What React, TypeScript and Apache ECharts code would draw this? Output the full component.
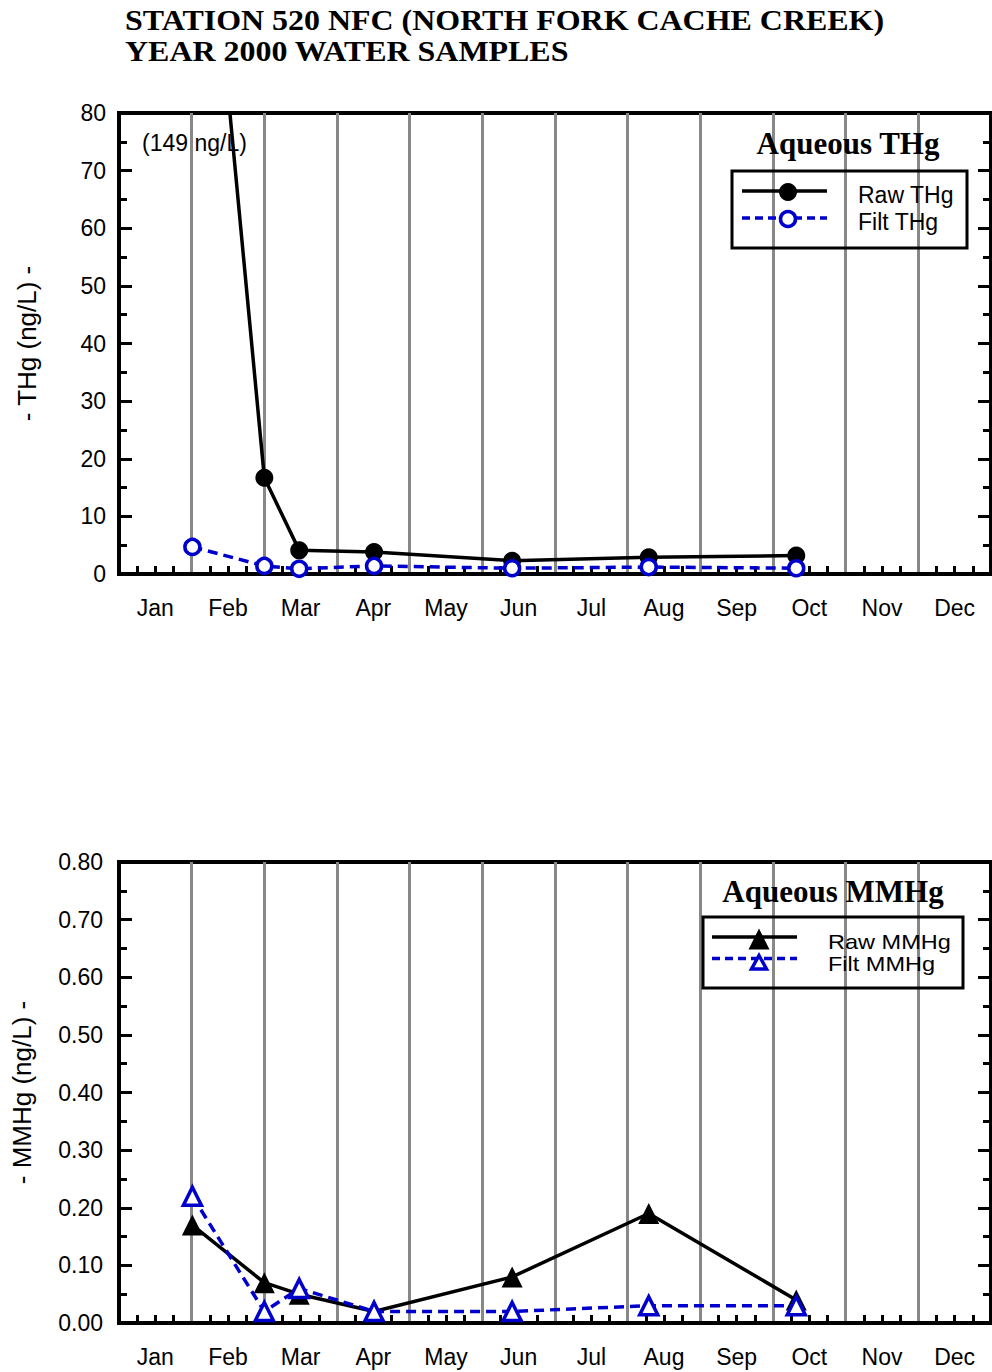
import React, { useEffect, useRef } from 'react';
import * as echarts from 'echarts';

const MONTHS = ['Jan', 'Feb', 'Mar', 'Apr', 'May', 'Jun', 'Jul', 'Aug', 'Sep', 'Oct', 'Nov', 'Dec'];
// sample dates expressed as decimal month of year 2000 (0 = Jan 1)
const SAMPLE_MONTH = [1.01, 2.0, 2.48, 3.51, 5.41, 7.29, 9.32];
const RAW_THG = [149, 16.7, 4.1, 3.8, 2.3, 2.9, 3.2];
const FILT_THG = [4.7, 1.4, 0.9, 1.4, 1.0, 1.2, 1.0];
const RAW_MMHG = [0.17, 0.07, 0.05, 0.02, 0.08, 0.19, 0.04];
const FILT_MMHG = [0.22, 0.02, 0.06, 0.02, 0.02, 0.03, 0.03];
const THG_AXIS = { max: 80, interval: 10, decimals: 0 };
const MMHG_AXIS = { max: 0.8, interval: 0.1, decimals: 2 };

const SANS = 'Liberation Sans, Arial, Helvetica, sans-serif';
const SERIF = 'Liberation Serif, Times New Roman, serif';
const BLUE = '#0000cc';
const GRAY = '#888888';

function zip(xs: number[], ys: number[]) {
  return xs.map((x, i) => [x, ys[i]]);
}

function catX(gridIndex: number) {
  return {
    type: 'category',
    gridIndex,
    data: MONTHS,
    boundaryGap: true,
    position: 'bottom',
    axisLine: { show: true, lineStyle: { color: '#000', width: 4 } },
    axisTick: { show: false },
    axisLabel: { color: '#000', fontSize: 23, fontFamily: SANS, margin: 22, interval: 0 },
    splitLine: { show: true, interval: 0, lineStyle: { color: GRAY, width: 3 } },
  };
}

function valX(gridIndex: number) {
  return {
    type: 'value',
    gridIndex,
    min: 0,
    max: 12,
    interval: 1,
    position: 'bottom',
    axisLine: { show: false },
    axisTick: { show: false, inside: true },
    axisLabel: { show: false },
    splitLine: { show: false },
    minorTick: { show: true, splitNumber: 4, length: 8, lineStyle: { color: '#000', width: 3 } },
  };
}

function valY(
  gridIndex: number,
  ax: { max: number; interval: number; decimals: number },
  position: string,
  showLabel: boolean,
  name: string,
  nameGap: number,
  margin: number
) {
  return {
    type: 'value',
    gridIndex,
    min: 0,
    max: ax.max,
    interval: ax.interval,
    position,
    axisLine: { show: true, lineStyle: { color: '#000', width: 4 } },
    axisTick: { show: true, inside: true, length: 13, lineStyle: { color: '#000', width: 3 } },
    minorTick: { show: true, splitNumber: 2, length: 8, lineStyle: { color: '#000', width: 3 } },
    splitLine: { show: false },
    axisLabel: {
      show: showLabel,
      color: '#000',
      fontSize: 23,
      fontFamily: SANS,
      margin,
      padding: [5, 0, 0, 0],
      formatter: (v: number) => v.toFixed(ax.decimals),
    },
    name,
    nameLocation: 'middle',
    nameGap,
    nameTextStyle: { color: '#000', fontSize: 26, fontFamily: SANS },
  };
}

function text(x: number, y: number, t: string, size: number, opts: any = {}) {
  return {
    type: 'text',
    x,
    y,
    scaleX: opts.scaleX ?? 1,
    z: opts.z ?? 10,
    style: {
      text: t,
      fontSize: size,
      fontFamily: opts.family ?? SANS,
      fontWeight: opts.weight ?? 'normal',
      fill: '#000',
      align: opts.align ?? 'left',
      verticalAlign: 'middle',
    },
  };
}

export default function App() {
  const ref = useRef<HTMLDivElement>(null);

  useEffect(() => {
    if (!ref.current) return;
    const chart = echarts.init(ref.current, undefined, { renderer: 'svg' });

    const option: any = {
      animation: false,
      backgroundColor: '#fff',
      grid: [
        { left: 119, top: 113, width: 872, height: 461, show: true, borderColor: '#000', borderWidth: 4, backgroundColor: 'transparent' },
        { left: 119, top: 862, width: 872, height: 461, show: true, borderColor: '#000', borderWidth: 4, backgroundColor: 'transparent' },
      ],
      xAxis: [catX(0), valX(0), catX(1), valX(1)],
      yAxis: [
        valY(0, THG_AXIS, 'left', true, '- THg (ng/L) -', 79, 13),
        valY(0, THG_AXIS, 'right', false, '', 0, 8),
        valY(1, MMHG_AXIS, 'left', true, '- MMHg (ng/L) -', 84, 16),
        valY(1, MMHG_AXIS, 'right', false, '', 0, 8),
      ],
      series: [
        {
          name: 'Raw THg',
          type: 'line',
          xAxisIndex: 1,
          yAxisIndex: 0,
          data: zip(SAMPLE_MONTH, RAW_THG),
          symbol: 'circle',
          symbolSize: 18,
          itemStyle: { color: '#000' },
          lineStyle: { color: '#000', width: 3.5 },
          clip: true,
          z: 3,
        },
        {
          name: 'Filt THg',
          type: 'line',
          xAxisIndex: 1,
          yAxisIndex: 0,
          data: zip(SAMPLE_MONTH, FILT_THG),
          symbol: 'circle',
          symbolSize: 15,
          itemStyle: { color: '#fff', borderColor: BLUE, borderWidth: 3.5 },
          lineStyle: { color: BLUE, width: 3.5, type: [10, 6] },
          clip: true,
          z: 4,
        },
        {
          name: 'Raw MMHg',
          type: 'line',
          xAxisIndex: 3,
          yAxisIndex: 2,
          data: zip(SAMPLE_MONTH, RAW_MMHG),
          symbol: 'triangle',
          symbolSize: 21,
          itemStyle: { color: '#000' },
          lineStyle: { color: '#000', width: 3.5 },
          clip: true,
          z: 3,
        },
        {
          name: 'Filt MMHg',
          type: 'line',
          xAxisIndex: 3,
          yAxisIndex: 2,
          data: zip(SAMPLE_MONTH, FILT_MMHG),
          symbol: 'triangle',
          symbolSize: 18,
          itemStyle: { color: '#fff', borderColor: BLUE, borderWidth: 3.5 },
          lineStyle: { color: BLUE, width: 3.5, type: [10, 6] },
          clip: true,
          z: 4,
        },
      ],
      graphic: [
        text(125, 20, 'STATION 520 NFC (NORTH FORK CACHE CREEK)', 30, { family: SERIF, weight: 'bold', scaleX: 1.065 }),
        text(125, 51, 'YEAR 2000 WATER SAMPLES', 30, { family: SERIF, weight: 'bold', scaleX: 1.065 }),
        text(142, 143, '(149 ng/L)', 23, { z: 0 }),

        // THg legend
        text(848, 143, 'Aqueous THg', 31, { family: SERIF, weight: 'bold', align: 'center' }),
        { type: 'rect', z: 10, shape: { x: 732, y: 171, width: 235, height: 77 }, style: { fill: 'none', stroke: '#000', lineWidth: 3 } },
        { type: 'line', z: 10, shape: { x1: 742, y1: 191, x2: 827, y2: 191 }, style: { stroke: '#000', lineWidth: 3.5 } },
        { type: 'circle', z: 11, shape: { cx: 788, cy: 192, r: 9 }, style: { fill: '#000' } },
        { type: 'line', z: 10, shape: { x1: 742, y1: 218, x2: 827, y2: 218 }, style: { stroke: BLUE, lineWidth: 3.5, lineDash: [8, 5] } },
        { type: 'circle', z: 11, shape: { cx: 788, cy: 219, r: 7.5 }, style: { fill: '#fff', stroke: BLUE, lineWidth: 3.5 } },
        text(858, 195, 'Raw THg', 23),
        text(858, 222, 'Filt THg', 23),

        // MMHg legend
        text(833, 891, 'Aqueous MMHg', 31, { family: SERIF, weight: 'bold', align: 'center' }),
        { type: 'rect', z: 10, shape: { x: 703, y: 917, width: 260, height: 71 }, style: { fill: 'none', stroke: '#000', lineWidth: 3 } },
        { type: 'line', z: 10, shape: { x1: 712, y1: 937, x2: 797, y2: 937 }, style: { stroke: '#000', lineWidth: 3.5 } },
        { type: 'polygon', z: 11, shape: { points: [[759, 928.5], [769.5, 949.5], [748.5, 949.5]] }, style: { fill: '#000' } },
        { type: 'line', z: 10, shape: { x1: 712, y1: 958.5, x2: 797, y2: 958.5 }, style: { stroke: BLUE, lineWidth: 3.5, lineDash: [8, 5] } },
        { type: 'polygon', z: 11, shape: { points: [[759, 955.5], [766.5, 969], [751.5, 969]] }, style: { fill: '#fff', stroke: BLUE, lineWidth: 3.5 } },
        text(828, 941.5, 'Raw MMHg', 21, { scaleX: 1.12 }),
        text(828, 963.5, 'Filt MMHg', 21, { scaleX: 1.12 }),
      ],
    };

    chart.setOption(option);
    return () => chart.dispose();
  }, []);

  return <div ref={ref} style={{ position: 'absolute', left: 0, top: 0, width: 992, height: 1372 }} />;
}
